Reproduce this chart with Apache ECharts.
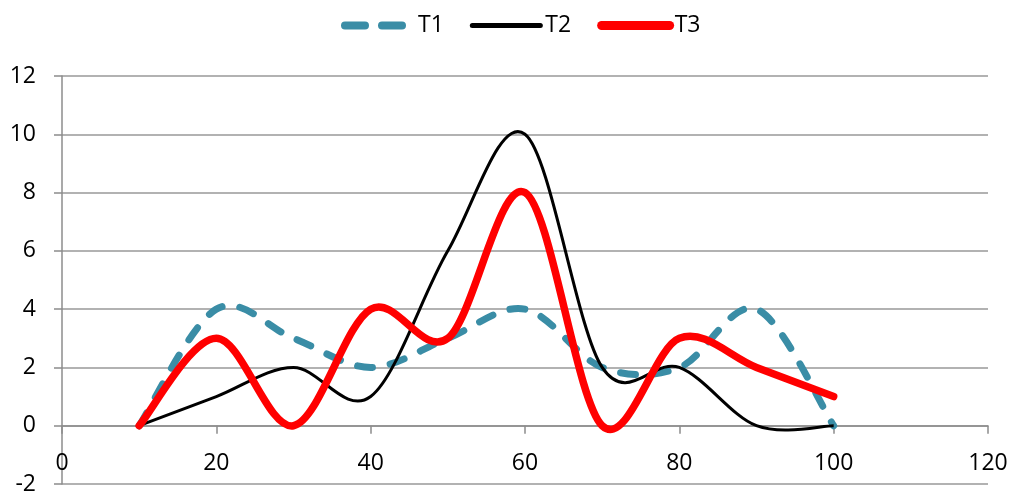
<!DOCTYPE html>
<html>
<head>
<meta charset="utf-8">
<script src="https://cdn.jsdelivr.net/npm/echarts@6/dist/echarts.min.js"></script>
<style>html,body{margin:0;padding:0;background:#fff}#c{width:1011px;height:492px}</style>
</head>
<body>
<div id="c"></div>
<script>
const xValues = [10, 20, 30, 40, 50, 60, 70, 80, 90, 100];
const t1 = [0, 4, 3, 2, 3, 4, 2, 2, 4, 0];
const t2 = [0, 1, 2, 1, 6, 10, 2, 2, 0, 0];
const t3 = [0, 3, 0, 4, 3, 8, 0, 3, 2, 1];
const seriesNames = ['T1', 'T2', 'T3'];

const pairs = arr => xValues.map((x, i) => [x, arr[i]]);
const font = '"Open Sans", "Liberation Sans", sans-serif';

// Excel-like smoothed curve (Catmull-Rom in pixel space), points mapped through the chart's own axes
function smoothRender(values, style) {
  return function (params, api) {
    if (params.dataIndex !== 0) return null;
    const pts = xValues.map((x, i) => api.coord([x, values[i]]));
    const n = pts.length;
    let d = 'M' + pts[0][0] + ' ' + pts[0][1];
    for (let i = 0; i < n - 1; i++) {
      const p0 = pts[i - 1] || pts[i];
      const p1 = pts[i];
      const p2 = pts[i + 1];
      const p3 = pts[i + 2] || pts[i + 1];
      const c1x = p1[0] + (p2[0] - p0[0]) / 6, c1y = p1[1] + (p2[1] - p0[1]) / 6;
      const c2x = p2[0] - (p3[0] - p1[0]) / 6, c2y = p2[1] - (p3[1] - p1[1]) / 6;
      d += ' C' + c1x + ' ' + c1y + ' ' + c2x + ' ' + c2y + ' ' + p2[0] + ' ' + p2[1];
    }
    return {
      type: 'path',
      shape: { pathData: d },
      style: Object.assign({ fill: null }, style)
    };
  };
}

const colors = { T1: '#3a8da6', T2: '#000000', T3: '#ff0000' };

const chart = echarts.init(document.getElementById('c'));
chart.setOption({
  animation: false,
  legend: {
    top: 9, left: 336,
    itemWidth: 68, itemHeight: 10, itemGap: 26,
    itemStyle: { opacity: 0 },
    textStyle: { fontFamily: font, fontSize: 23, color: '#000' },
    data: [
      { name: seriesNames[0], lineStyle: { width: 8, type: [20, 17], cap: 'round', color: colors.T1 } },
      { name: seriesNames[1], lineStyle: { width: 5, type: 'solid', cap: 'round', color: colors.T2 } },
      { name: seriesNames[2], lineStyle: { width: 9, type: 'solid', cap: 'round', color: colors.T3 } }
    ]
  },
  grid: { left: 62, right: 23, top: 76, bottom: 8, containLabel: false, outerBoundsMode: 'none' },
  xAxis: {
    type: 'value', min: 0, max: 120, interval: 20,
    axisLine: { show: true, onZero: true, lineStyle: { color: '#8c8c8c', width: 1.5 } },
    axisTick: { show: true, length: 8, lineStyle: { color: '#8c8c8c', width: 1.5 } },
    splitLine: { show: false },
    axisLabel: { margin: -32, fontFamily: font, fontSize: 23, color: '#000', hideOverlap: false }
  },
  yAxis: {
    type: 'value', min: -2, max: 12, interval: 2,
    axisLine: { show: true, lineStyle: { color: '#8c8c8c', width: 1.5 } },
    axisTick: { show: true, length: 8, lineStyle: { color: '#8c8c8c', width: 1.5 } },
    splitLine: { show: true, lineStyle: { color: '#999', width: 1.5 } },
    axisLabel: { margin: 26, fontFamily: font, fontSize: 23, color: '#000' }
  },
  series: [
    { name: 'T1', type: 'line', data: [], symbol: 'none', itemStyle: { color: colors.T1 }, lineStyle: { color: colors.T1 } },
    { name: 'T2', type: 'line', data: [], symbol: 'none', itemStyle: { color: colors.T2 }, lineStyle: { color: colors.T2 } },
    { name: 'T3', type: 'line', data: [], symbol: 'none', itemStyle: { color: colors.T3 }, lineStyle: { color: colors.T3 } },
    { name: 'T1', type: 'custom', data: pairs(t1), itemStyle: { color: colors.T1 },
      renderItem: smoothRender(t1, { stroke: colors.T1, lineWidth: 7, lineDash: [15, 18], lineCap: 'round', lineJoin: 'round' }) },
    { name: 'T2', type: 'custom', data: pairs(t2), itemStyle: { color: colors.T2 },
      renderItem: smoothRender(t2, { stroke: colors.T2, lineWidth: 3, lineJoin: 'round' }) },
    { name: 'T3', type: 'custom', data: pairs(t3), itemStyle: { color: colors.T3 },
      renderItem: smoothRender(t3, { stroke: colors.T3, lineWidth: 7.5, lineCap: 'round', lineJoin: 'round' }) }
  ]
});
</script>
</body>
</html>
